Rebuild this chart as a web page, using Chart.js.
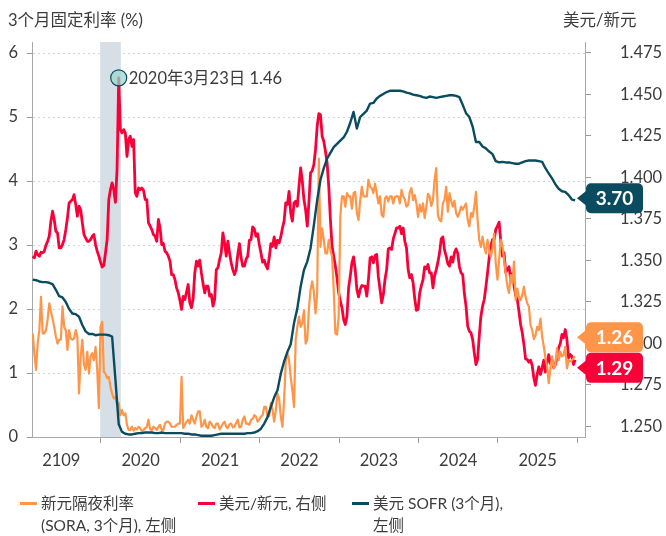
<!DOCTYPE html>
<html>
<head>
<meta charset="utf-8">
<script src="https://cdn.jsdelivr.net/npm/chart.js@4.4.1/dist/chart.umd.min.js"></script>
<style>
  body { margin: 0; background: #fff; }
  #wrap {
    position: relative; width: 666px; height: 536px;
    font-family: Lato, "Noto Sans CJK SC", sans-serif; color: #3c3c3c;
  }
  canvas { position: absolute; left: 0; top: 0; }
  .axis-title { position: absolute; top: 9px; font-size: 16.5px; line-height: 22px; white-space: nowrap; }
  .legend-item { position: absolute; top: 492px; font-size: 15.5px; line-height: 22px; white-space: nowrap; }
  .legend-item .swatch { position: absolute; left: -21px; top: 10px; width: 17px; height: 3px; }
</style>
</head>
<body>
<div id="wrap">
  <canvas id="chart" width="666" height="536"></canvas>
  <div class="axis-title" style="left:8px">3个月固定利率 (%)</div>
  <div class="axis-title" style="left:563px">美元/新元</div>
  <div class="legend-item" style="left:41px"><span class="swatch" style="background:#ff9548"></span>新元隔夜利率<br>(SORA, 3个月), 左侧</div>
  <div class="legend-item" style="left:219px"><span class="swatch" style="background:#fa0038"></span>美元/新元, 右侧</div>
  <div class="legend-item" style="left:373px"><span class="swatch" style="background:#0b4b5f"></span>美元 SOFR (3个月),<br>左侧</div>
</div>
<script>
// Ряды начинаются с середины февраля 2019
const START_YEAR = 2019.14;
const FINE_STEP = 1 / 48;   // SORA и курс - примерно раз в неделю
const SOFR_STEP = 1 / 24;   // SOFR гладкий, хватает двух точек в месяц

// Подписи годов стоят посередине года, засечки - на границах лет
const X_TICKS = [2019.5, 2020, 2020.5, 2021, 2021.5, 2022, 2022.5, 2023, 2023.5, 2024, 2024.5, 2025, 2025.5, 2026];
const YEAR_LABELS = ["2109", "2020", "2021", "2022", "2023", "2024", "2025"];

// Серая полоса (начало пандемии) и подпись пика курса
const SHADE_RANGE = [2019.99, 2020.25];
const ANNOT_INDEX = 52;
const ANNOT_TEXT = "2020年3月23日 1.46";

// 新元隔夜利率 (SORA, 3个月), левая ось
const SORA = [
  1.62, 1.31, 1.05, 1.46, 1.67, 2.19, 1.62, 1.62, 1.67, 1.83,
  2.09, 1.96, 1.85, 1.72, 1.57, 1.46, 1.52, 1.52, 2.04, 1.72,
  1.67, 1.36, 1.67, 1.54, 1.52, 1.54, 1.67, 1.57, 0.68, 1.26,
  1.52, 1.13, 1.05, 1.33, 0.99, 1.26, 1.31, 1.20, 1.41, 1.05,
  0.45, 1.72, 1.80, 1.02, 0.99, 0.92, 0.94, 0.79, 0.68, 0.60,
  0.63, 0.50, 0.53, 0.34, 0.42, 0.34, 0.37, 0.19, 0.11, 0.11,
  0.16, 0.10, 0.14, 0.12, 0.16, 0.14, 0.08, 0.11, 0.14, 0.16,
  0.27, 0.12, 0.11, 0.16, 0.14, 0.11, 0.16, 0.19, 0.11, 0.11,
  0.21, 0.24, 0.24, 0.21, 0.16, 0.16, 0.16, 0.19, 0.21, 0.21,
  0.94, 0.14, 0.19, 0.24, 0.27, 0.21, 0.34, 0.27, 0.21, 0.32,
  0.40, 0.40, 0.16, 0.19, 0.27, 0.16, 0.14, 0.24, 0.21, 0.16,
  0.14, 0.21, 0.21, 0.12, 0.16, 0.21, 0.24, 0.16, 0.14, 0.20,
  0.21, 0.15, 0.16, 0.22, 0.27, 0.15, 0.16, 0.27, 0.32, 0.21,
  0.21, 0.19, 0.27, 0.28, 0.34, 0.32, 0.24, 0.27, 0.32, 0.34,
  0.47, 0.47, 0.32, 0.33, 0.53, 0.43, 0.24, 0.42, 0.68, 0.60,
  0.32, 0.16, 0.58, 1.18, 1.31, 1.20, 0.94, 0.73, 0.47, 1.52,
  1.72, 1.88, 1.72, 1.78, 1.98, 1.46, 1.52, 2.01, 2.30, 2.43,
  2.27, 1.93, 2.25, 4.35, 2.97, 3.26, 3.08, 2.87, 2.87, 3.08,
  2.92, 2.82, 2.30, 1.62, 1.60, 1.88, 3.45, 3.76, 3.76, 3.60,
  3.81, 3.76, 3.76, 3.57, 3.81, 3.83, 3.50, 3.39, 3.70, 3.91,
  3.76, 3.76, 3.76, 4.02, 3.91, 3.89, 3.81, 3.96, 3.81, 3.65,
  3.76, 3.47, 3.44, 3.73, 3.76, 3.68, 3.76, 3.76, 3.65, 3.75,
  3.76, 3.76, 3.65, 3.86, 3.76, 3.71, 3.60, 3.63, 3.83, 3.89,
  3.70, 3.78, 3.65, 3.44, 3.63, 3.52, 3.65, 3.42, 3.60, 3.80,
  3.76, 3.61, 3.70, 4.02, 4.20, 3.47, 3.39, 3.37, 3.65, 3.71,
  3.91, 3.52, 3.81, 3.69, 3.60, 3.69, 3.50, 3.44, 3.50, 3.60,
  3.55, 3.60, 3.65, 3.39, 3.29, 3.50, 3.44, 3.60, 3.83, 3.39,
  3.08, 2.97, 3.13, 2.97, 2.87, 3.08, 2.92, 2.82, 2.95, 3.18,
  2.71, 2.46, 2.77, 3.08, 3.00, 2.78, 2.56, 2.36, 2.25, 2.53,
  2.40, 2.74, 2.14, 2.32, 2.19, 2.14, 2.22, 2.35, 2.19, 2.09,
  2.04, 1.75, 1.67, 1.53, 1.59, 1.72, 1.67, 1.85, 1.57, 1.42,
  1.23, 1.11, 0.84, 1.07, 1.26, 1.07, 1.13, 1.39, 1.20, 1.33,
  1.26, 1.28, 1.41, 1.07, 1.20, 1.18, 1.20, 1.23, 1.26
];

// 美元/新元, правая ось
const USDSGD = [
  1.3525, 1.3515, 1.3555, 1.3535, 1.3525, 1.3549, 1.3545, 1.3555, 1.3590, 1.3615,
  1.3645, 1.3736, 1.3796, 1.3746, 1.3675, 1.3665, 1.3575, 1.3575, 1.3595, 1.3625,
  1.3685, 1.3756, 1.3846, 1.3856, 1.3866, 1.3896, 1.3836, 1.3766, 1.3826, 1.3806,
  1.3726, 1.3655, 1.3635, 1.3615, 1.3615, 1.3625, 1.3645, 1.3655, 1.3595, 1.3555,
  1.3525, 1.3489, 1.3460, 1.3469, 1.3545, 1.3625, 1.3866, 1.3926, 1.3967, 1.3926,
  1.3850, 1.4050, 1.4600, 1.4288, 1.4268, 1.4288, 1.4268, 1.4127, 1.4228, 1.4248,
  1.4187, 1.4228, 1.3906, 1.3886, 1.3936, 1.3926, 1.3936, 1.3922, 1.3866, 1.3866,
  1.3726, 1.3706, 1.3685, 1.3655, 1.3645, 1.3615, 1.3746, 1.3695, 1.3595, 1.3601,
  1.3555, 1.3545, 1.3525, 1.3495, 1.3414, 1.3414, 1.3384, 1.3334, 1.3304, 1.3260,
  1.3204, 1.3282, 1.3264, 1.3308, 1.3354, 1.3244, 1.3214, 1.3268, 1.3424, 1.3495,
  1.3465, 1.3501, 1.3424, 1.3360, 1.3304, 1.3344, 1.3344, 1.3284, 1.3294, 1.3224,
  1.3264, 1.3444, 1.3455, 1.3505, 1.3545, 1.3665, 1.3605, 1.3525, 1.3615, 1.3545,
  1.3485, 1.3444, 1.3414, 1.3444, 1.3535, 1.3601, 1.3515, 1.3465, 1.3465, 1.3505,
  1.3525, 1.3621, 1.3625, 1.3702, 1.3689, 1.3645, 1.3661, 1.3595, 1.3545, 1.3489,
  1.3501, 1.3469, 1.3449, 1.3515, 1.3601, 1.3585, 1.3641, 1.3575, 1.3621, 1.3605,
  1.3641, 1.3695, 1.3736, 1.3846, 1.3836, 1.3916, 1.3786, 1.3736, 1.3846, 1.3856,
  1.3826, 1.3946, 1.4057, 1.3977, 1.3866, 1.3806, 1.3706, 1.3850, 1.4027, 1.4040,
  1.4077, 1.4167, 1.4308, 1.4384, 1.4378, 1.4248, 1.4218, 1.4157, 1.4087, 1.3946,
  1.3746, 1.3585, 1.3525, 1.3465, 1.3394, 1.3304, 1.3254, 1.3214, 1.3143, 1.3113,
  1.3163, 1.3334, 1.3404, 1.3485, 1.3521, 1.3444, 1.3324, 1.3280, 1.3324, 1.3348,
  1.3344, 1.3344, 1.3284, 1.3384, 1.3515, 1.3521, 1.3485, 1.3529, 1.3535, 1.3400,
  1.3324, 1.3244, 1.3294, 1.3384, 1.3444, 1.3569, 1.3575, 1.3565, 1.3629, 1.3661,
  1.3695, 1.3695, 1.3705, 1.3661, 1.3695, 1.3615, 1.3575, 1.3444, 1.3394, 1.3414,
  1.3364, 1.3268, 1.3199, 1.3204, 1.3304, 1.3348, 1.3384, 1.3461, 1.3449, 1.3475,
  1.3424, 1.3424, 1.3334, 1.3408, 1.3444, 1.3489, 1.3545, 1.3629, 1.3641, 1.3561,
  1.3525, 1.3480, 1.3465, 1.3521, 1.3489, 1.3545, 1.3569, 1.3541, 1.3461, 1.3424,
  1.3414, 1.3300, 1.3224, 1.3103, 1.3073, 1.3063, 1.3023, 1.2942, 1.2872, 1.2902,
  1.3043, 1.3163, 1.3224, 1.3264, 1.3340, 1.3424, 1.3515, 1.3585, 1.3625, 1.3625,
  1.3686, 1.3706, 1.3730, 1.3615, 1.3525, 1.3545, 1.3428, 1.3444, 1.3461, 1.3388,
  1.3420, 1.3348, 1.3288, 1.3264, 1.3193, 1.3113, 1.3063, 1.2993, 1.2906, 1.2902,
  1.2886, 1.2898, 1.2866, 1.2792, 1.2746, 1.2812, 1.2858, 1.2812, 1.2852, 1.2898,
  1.2826, 1.2886, 1.2932, 1.2878, 1.2898, 1.2852, 1.2872, 1.2912, 1.2973, 1.2999,
  1.3053, 1.3033, 1.3083, 1.3023, 1.2912, 1.2932, 1.2922, 1.2872, 1.2900
];

// 美元 SOFR (3个月), левая ось
const SOFR = [
  2.46, 2.45, 2.43, 2.42, 2.42, 2.41, 2.39, 2.30, 2.20, 2.18,
  2.11, 2.00, 1.93, 1.92, 1.88, 1.75, 1.65, 1.61, 1.61, 1.59,
  1.60, 1.60, 1.60, 1.59, 1.57, 0.90, 0.20, 0.08, 0.05, 0.04,
  0.04, 0.05, 0.06, 0.06, 0.07, 0.07, 0.07, 0.06, 0.06, 0.07,
  0.06, 0.06, 0.06, 0.06, 0.06, 0.06, 0.05, 0.05, 0.04, 0.04,
  0.03, 0.02, 0.02, 0.02, 0.02, 0.03, 0.04, 0.05, 0.05, 0.05,
  0.05, 0.05, 0.05, 0.05, 0.05, 0.06, 0.06, 0.07, 0.09, 0.13,
  0.21, 0.31, 0.47, 0.62, 0.73, 0.99, 1.18, 1.33, 1.45, 1.78,
  2.01, 2.35, 2.61, 2.74, 2.95, 3.31, 3.70, 4.02, 4.20, 4.35,
  4.44, 4.53, 4.58, 4.63, 4.68, 4.77, 4.91, 5.08, 4.82, 5.00,
  5.05, 5.10, 5.21, 5.22, 5.29, 5.33, 5.36, 5.39, 5.41, 5.41,
  5.41, 5.41, 5.40, 5.38, 5.37, 5.35, 5.34, 5.33, 5.31, 5.30,
  5.32, 5.31, 5.30, 5.31, 5.32, 5.33, 5.34, 5.34, 5.33, 5.31,
  5.19, 5.06, 5.00, 4.85, 4.61, 4.61, 4.54, 4.51, 4.46, 4.42,
  4.31, 4.29, 4.30, 4.29, 4.29, 4.28, 4.27, 4.27, 4.29, 4.31,
  4.32, 4.32, 4.32, 4.31, 4.30, 4.20, 4.12, 4.04, 3.95, 3.88,
  3.84, 3.83, 3.78, 3.71, 3.70
];

const ORANGE = "#ff9548";
const RED = "#fa0038";
const TEAL = "#0b4b5f";
const TEXT = "#3c3c3c";
const FONT = 'Lato, "Noto Sans CJK SC", sans-serif';

function toPoints(values, step) {
    return values.map((v, i) => ({ x: START_YEAR + i * step, y: v }));
}

// Плашка со стрелкой для последнего значения ряда
function drawTag(ctx, tipX, y, text, color) {
    const boxLeft = tipX + 9;
    const w = 57, h = 30;
    ctx.fillStyle = color;
    ctx.beginPath();
    ctx.roundRect(boxLeft, y - h / 2, w, h, 5);
    ctx.fill();
    ctx.beginPath();
    ctx.moveTo(tipX, y);
    ctx.lineTo(boxLeft + 1, y - 8);
    ctx.lineTo(boxLeft + 1, y + 8);
    ctx.closePath();
    ctx.fill();
    ctx.fillStyle = "#fff";
    ctx.font = "bold 19px " + FONT;
    ctx.textAlign = "center";
    ctx.textBaseline = "middle";
    ctx.fillText(text, boxLeft + w / 2, y + 1);
}

const overlayPlugin = {
    id: "overlay",
    beforeDatasetsDraw(chart) {
        const { ctx, chartArea, scales } = chart;
        const x1 = scales.x.getPixelForValue(SHADE_RANGE[0]);
        const x2 = scales.x.getPixelForValue(SHADE_RANGE[1]);
        ctx.save();
        ctx.fillStyle = "#d6dfe5";
        ctx.fillRect(x1, chartArea.top, x2 - x1, chartArea.bottom - chartArea.top);
        ctx.restore();
    },
    afterDatasetsDraw(chart) {
        const { ctx, chartArea, scales } = chart;
        ctx.save();

        // Кружок и подпись пика
        const ax = scales.x.getPixelForValue(START_YEAR + ANNOT_INDEX * FINE_STEP);
        const ay = scales.y1.getPixelForValue(USDSGD[ANNOT_INDEX]);
        ctx.beginPath();
        ctx.arc(ax, ay, 8, 0, Math.PI * 2);
        ctx.fillStyle = "rgba(150, 215, 205, 0.7)";
        ctx.fill();
        ctx.lineWidth = 1.2;
        ctx.strokeStyle = TEAL;
        ctx.stroke();
        ctx.fillStyle = TEXT;
        ctx.font = "16.5px " + FONT;
        ctx.textAlign = "left";
        ctx.textBaseline = "middle";
        ctx.fillText(ANNOT_TEXT, ax + 10, ay + 1);

        // Плашки последних значений (сдвинуты, чтобы не наезжали друг на друга)
        const tipX = chartArea.right - 8;
        const lastSofr = SOFR[SOFR.length - 1];
        const lastSora = SORA[SORA.length - 1];
        const lastFx = USDSGD[USDSGD.length - 1];
        drawTag(ctx, tipX, scales.y.getPixelForValue(lastSofr) - 2, lastSofr.toFixed(2), TEAL);
        drawTag(ctx, tipX, scales.y.getPixelForValue(lastSora) - 19, lastSora.toFixed(2), ORANGE);
        drawTag(ctx, tipX, scales.y1.getPixelForValue(lastFx) + 8, lastFx.toFixed(2), RED);
        ctx.restore();
    },
};

const tickFont = { size: 16.5, family: FONT };

new Chart(document.getElementById("chart"), {
    type: "line",
    data: {
        datasets: [
            {
                label: "新元隔夜利率 (SORA, 3个月), 左侧",
                data: toPoints(SORA, FINE_STEP),
                borderColor: ORANGE,
                borderWidth: 2.2,
                yAxisID: "y",
                order: 2,
            },
            {
                label: "美元/新元, 右侧",
                data: toPoints(USDSGD, FINE_STEP),
                borderColor: RED,
                borderWidth: 2.8,
                yAxisID: "y1",
                order: 3,
            },
            {
                label: "美元 SOFR (3个月), 左侧",
                data: toPoints(SOFR, SOFR_STEP),
                borderColor: TEAL,
                borderWidth: 2.4,
                yAxisID: "y",
                order: 1,
            },
        ],
    },
    options: {
        responsive: false,
        animation: false,
        events: [],
        layout: { padding: { left: 0, right: 0, top: 42, bottom: 69 } },
        elements: {
            point: { radius: 0 },
            line: { tension: 0, borderJoinStyle: "round" },
        },
        plugins: {
            legend: { display: false },
            tooltip: { enabled: false },
        },
        scales: {
            x: {
                type: "linear",
                min: 2019.131,
                max: 2026.097,
                afterBuildTicks: (axis) => {
                    axis.ticks = X_TICKS.map((v) => ({ value: v }));
                },
                afterFit: (s) => { s.height = 30; },
                ticks: {
                    autoSkip: false,
                    maxRotation: 0,
                    padding: 8,
                    color: TEXT,
                    font: tickFont,
                    callback: (v) => (Number.isInteger(v) ? "" : YEAR_LABELS[Math.floor(v) - 2019]),
                },
                grid: {
                    drawOnChartArea: false,
                    tickLength: 6,
                    tickColor: (c) => (c.tick && Number.isInteger(c.tick.value) ? "#9a9a9a" : "rgba(0,0,0,0)"),
                },
                border: { color: "#a8a8a8" },
            },
            y: {
                position: "left",
                min: 0,
                max: 6.172,
                afterFit: (s) => { s.width = 32; },
                ticks: { stepSize: 1, includeBounds: false, padding: 9, color: TEXT, font: tickFont },
                grid: { color: "#d6d6d6", tickColor: "#9a9a9a", tickLength: 5, tickBorderDash: [] },
                border: { color: "#a8a8a8", dash: [2, 3] },
            },
            y1: {
                position: "right",
                min: 1.2435,
                max: 1.4816,
                afterFit: (s) => { s.width = 81; },
                ticks: {
                    stepSize: 0.025,
                    includeBounds: false,
                    padding: 29,
                    color: TEXT,
                    font: tickFont,
                    callback: (v) => v.toFixed(3),
                },
                grid: { drawOnChartArea: false, tickColor: "#9a9a9a", tickLength: 6 },
                border: { color: "#a8a8a8" },
            },
        },
    },
    plugins: [overlayPlugin],
});
</script>
</body>
</html>
